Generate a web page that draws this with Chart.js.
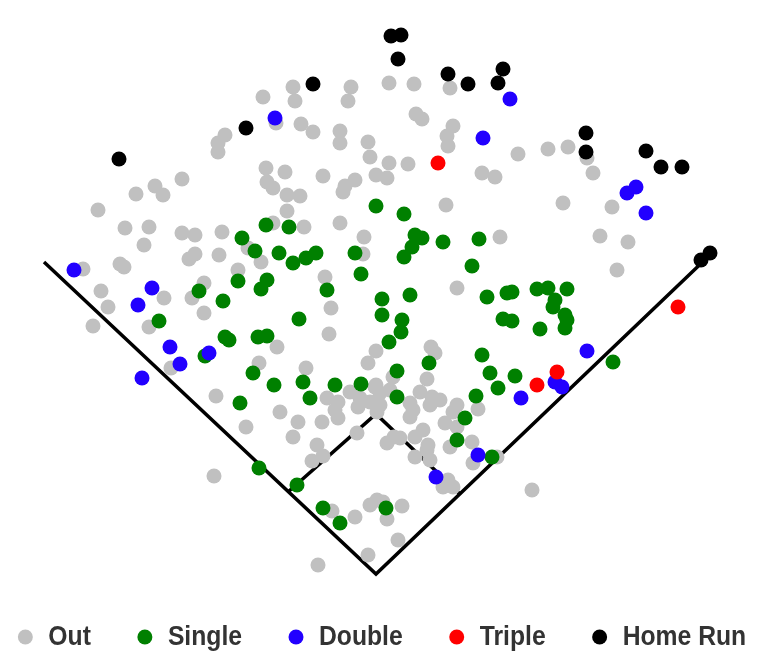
<!DOCTYPE html>
<html><head><meta charset="utf-8">
<script src="https://cdn.jsdelivr.net/npm/chart.js@4.4.1/dist/chart.umd.min.js"></script>
<style>html,body{margin:0;padding:0;background:#fff}#wrap{width:760px;height:663px;position:relative}</style>
</head><body><div id="wrap"><canvas id="c"></canvas></div>
<script>
const seriesNames = ['Out', 'Single', 'Double', 'Triple', 'Home Run'];
const seriesColors = ['#c0c0c0', '#008000', '#2200ff', '#ff0000', '#000000'];

const outPts = [
[263,97],[276,123],[225,135],[218,143],[218,152],[182,179],[155,186],[163,195],[136,194],[98,210],
[266,168],[285,172],[267,182],[273,188],[287,195],[300,196],
[293,87],[295,101],[351,87],[348,101],[389,83],[414,84],[450,88],[301,124],[313,132],[340,131],[340,143],[368,142],[370,157],[416,114],[422,119],[453,126],[447,136],[448,146],[389,163],[408,164],[323,176],[355,180],[345,186],[343,192],[376,175],[387,178],[482,173],[495,177],[287,211],[446,205],
[518,154],[548,149],[568,147],[587,158],[593,173],[563,203],[612,207],[600,236],[628,242],[617,270],[500,237],
[125,228],[149,227],[144,245],[182,233],[195,235],[222,232],[273,223],[248,248],[261,262],[195,254],[189,259],[219,255],[120,264],[124,267],[83,269],[238,270],[101,291],[108,307],[164,298],[204,283],[192,298],[204,313],[149,327],[93,326],[277,347],[171,368],[259,363],
[340,223],[304,227],[364,237],[363,254],[325,277],[457,288],[331,308],[329,334],[376,351],[368,363],[431,347],[435,353],[306,368],[393,377],[427,379],[376,385],
[280,412],[298,422],[322,422],[327,398],[338,402],[335,410],[338,418],[350,392],[360,398],[375,387],[380,393],[370,402],[380,405],[390,390],[377,412],[358,407],[293,437],[317,445],[357,433],[387,443],[394,437],[400,438],
[420,392],[432,397],[440,400],[410,403],[430,405],[410,417],[413,410],[478,409],[457,405],[453,412],[445,423],[457,427],[472,442],[423,430],[428,445],[415,437],
[216,396],[246,427],[323,456],[312,461],[214,476],[332,511],[318,565],
[415,457],[427,450],[430,460],[450,447],[497,457],[473,463],[448,480],[453,487],[443,487],[532,490],[377,500],[370,505],[383,502],[402,506],[355,517],[387,519],[398,540],[368,555]
];

const singlePts = [
[376,206],[404,214],[289,227],[266,225],[355,253],[415,235],[422,238],[412,247],[404,257],[443,242],[479,239],[279,253],[293,263],[306,258],[316,253],[361,274],[472,266],[327,290],[487,297],[507,293],[382,299],[410,295],[382,315],[402,320],[401,332],[299,319],[503,319],[389,342],[429,363],[482,355],[303,382],[397,371],[490,373],[335,385],[361,384],[274,385],[498,388],
[242,238],[255,251],[238,281],[267,280],[261,289],[199,291],[223,301],[159,321],[225,337],[229,340],[258,337],[267,336],[205,356],[253,373],
[512,292],[537,289],[548,288],[567,289],[555,300],[553,307],[565,315],[567,320],[565,328],[512,321],[540,329],[613,362],[515,376],
[310,398],[397,397],[476,396],[465,418],[457,440],[492,457],
[240,403],[259,468],[297,485],[323,508],[340,523],[386,508]
];

const doublePts = [
[275,118],[510,99],[483,138],[627,193],[636,187],[646,213],[74,270],[152,288],[138,305],[170,347],[209,353],[180,364],[142,378],[587,351],[521,398],[555,382],[562,387],[478,455],[436,477]
];

const triplePts = [
[438,163],[678,307],[557,372],[537,385]
];

const homeRunPts = [
[391,36],[401,35],[398,59],[313,84],[448,74],[468,84],[503,69],[498,83],[246,128],[119,159],[586,133],[586,152],[646,151],[661,167],[682,167],[710,253],[701,260]
];

const fieldLines = [
  [[44,262],[376,574],[712,253]],
  [[288,492],[376,414],[460,494]]
];

const seriesData = [outPts, singlePts, doublePts, triplePts, homeRunPts];
const toXY = arr => arr.map(p => ({x: p[0], y: p[1]}));

const datasets = seriesData.map((pts, i) => ({
  label: seriesNames[i],
  data: toXY(pts),
  backgroundColor: seriesColors[i],
  borderWidth: 0,
  pointRadius: 7.5,
  pointHoverRadius: 7.5,
  order: 5 - i,
  clip: false,
  inLegend: true
}));
fieldLines.forEach(line => datasets.push({
  label: 'field',
  data: toXY(line),
  showLine: true,
  borderColor: '#000',
  borderWidth: 3.5,
  pointRadius: 0,
  fill: false,
  order: 10,
  clip: false,
  inLegend: false
}));

const legendPlugin = {
  id: 'customLegend',
  afterDraw(chart) {
    const ctx = chart.ctx;
    ctx.save();
    ctx.font = "bold 27px 'Liberation Sans', Arial, sans-serif";
    ctx.textBaseline = 'middle';
    const sx = 0.915;
    const items = chart.data.datasets.filter(d => d.inLegend);
    const r = 7.5, gapIn = 23, gapOut = 54, cy = 637;
    const widths = items.map(d => ctx.measureText(d.label).width * sx);
    let total = r + (items.length - 1) * gapOut;
    widths.forEach(w => total += gapIn + w);
    let cx = 382 - total / 2 + r;
    items.forEach((d, i) => {
      ctx.fillStyle = d.backgroundColor;
      ctx.beginPath();
      ctx.arc(cx, cy, r, 0, Math.PI * 2);
      ctx.fill();
      ctx.save();
      ctx.translate(cx + gapIn, cy + 1);
      ctx.scale(sx, 1);
      ctx.fillStyle = '#333';
      ctx.fillText(d.label, 0, 0);
      ctx.restore();
      cx = cx + gapIn + widths[i] + gapOut;
    });
    ctx.restore();
  }
};

new Chart(document.getElementById('c'), {
  type: 'scatter',
  data: { datasets },
  options: {
    responsive: true,
    maintainAspectRatio: false,
    animation: false,
    events: [],
    layout: { padding: 0, autoPadding: false },
    plugins: { legend: { display: false }, tooltip: { enabled: false } },
    scales: {
      x: { type: 'linear', display: false, min: 0, max: 760 },
      y: { type: 'linear', display: false, min: 0, max: 663, reverse: true }
    }
  },
  plugins: [legendPlugin]
});
</script>
</body></html>
